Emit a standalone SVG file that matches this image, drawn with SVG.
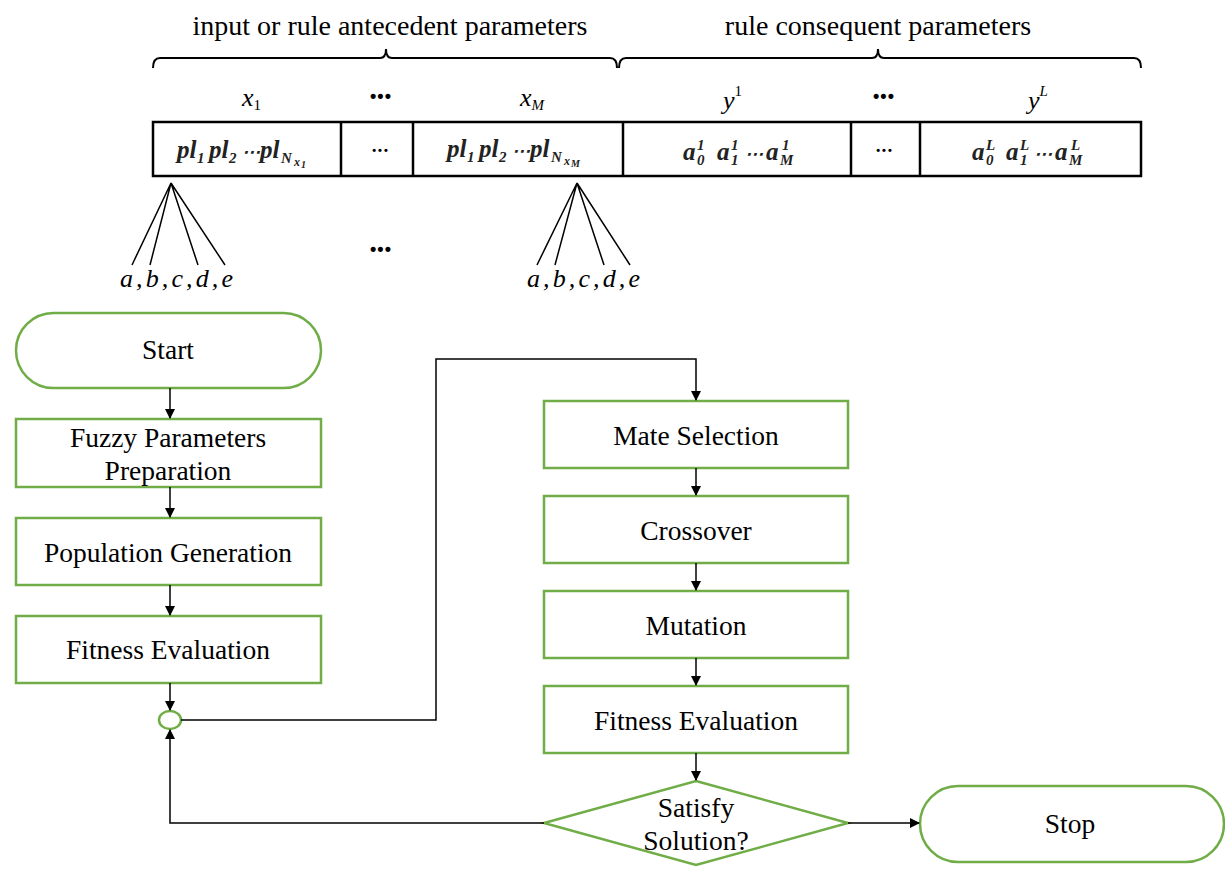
<svg xmlns="http://www.w3.org/2000/svg" width="1225" height="875" viewBox="0 0 1225 875">
<style>
.t{font-family:"Liberation Serif",serif;fill:#000}
.hd{font-size:28px}
.it{font-style:italic;font-size:26px}
.cell{font-family:"Liberation Serif",serif;font-style:italic;font-weight:bold;font-size:25px;fill:#222}
.s1{font-size:15px}
.s2{font-size:12px}
.lbl{font-size:27.5px;text-anchor:middle}
.node{fill:#fff;stroke:#70AD47;stroke-width:2.5}
.ln{fill:none;stroke:#000;stroke-width:1.5}
.blk{fill:none;stroke:#000;stroke-width:2}
.dots{font-family:"Liberation Sans",sans-serif;font-weight:bold;font-size:18px;text-anchor:middle;letter-spacing:1px}
.sd{font-family:"Liberation Sans",sans-serif;font-weight:bold;font-size:11px;text-anchor:middle;letter-spacing:2px}
</style>
<defs>
<marker id="ah" markerWidth="10" markerHeight="10" refX="9" refY="5" orient="auto" markerUnits="userSpaceOnUse">
<path d="M0,0 L10,5 L0,10 Z" fill="#000"/>
</marker>
</defs>
<g id="header">
<text class="t hd" x="390" y="35" text-anchor="middle">input or rule antecedent parameters</text>
<text class="t hd" x="878" y="35" text-anchor="middle">rule consequent parameters</text>
<path class="blk" d="M153,68 Q153,58 160,58 L380,58 Q386,58 386,49 Q386,58 392,58 L610,58 Q617,58 617,68"/>
<path class="blk" d="M619,68 Q619,58 626,58 L872,58 Q878,58 878,49 Q878,58 884,58 L1134,58 Q1141,58 1141,68"/>
<text class="t it" x="242" y="106">x<tspan font-size="15" dy="4" font-style="normal">1</tspan></text>
<text class="dots" x="381" y="102">•••</text>
<text class="t it" x="520" y="106">x<tspan font-size="15" dy="4">M</tspan></text>
<text class="t it" x="723" y="109">y<tspan font-size="15" dy="-13" font-style="normal">1</tspan></text>
<text class="dots" x="884" y="102">•••</text>
<text class="t it" x="1028" y="109">y<tspan font-size="15" dy="-13">L</tspan></text>
</g>
<g id="table">
<rect x="153" y="122" width="988" height="54" fill="#fff" stroke="#000" stroke-width="2.5"/>
<line x1="341" y1="122" x2="341" y2="176" stroke="#000" stroke-width="2.5"/>
<line x1="413" y1="122" x2="413" y2="176" stroke="#000" stroke-width="2.5"/>
<line x1="623" y1="122" x2="623" y2="176" stroke="#000" stroke-width="2.5"/>
<line x1="851" y1="122" x2="851" y2="176" stroke="#000" stroke-width="2.5"/>
<line x1="920" y1="122" x2="920" y2="176" stroke="#000" stroke-width="2.5"/>
<text class="cell"><tspan x="177" y="158">pl</tspan><tspan class="s1" x="197" y="163">1</tspan><tspan x="209" y="158">pl</tspan><tspan class="s1" x="229" y="163">2</tspan><tspan x="242" y="158" font-size="18">⋯</tspan><tspan x="260" y="158">pl</tspan><tspan class="s1" x="281" y="163">N</tspan><tspan class="s2" x="294" y="166">x</tspan><tspan font-size="10" x="301" y="168">1</tspan></text>
<text class="sd" x="381" y="154">•••</text>
<text class="cell"><tspan x="447" y="157">pl</tspan><tspan class="s1" x="467" y="162">1</tspan><tspan x="479" y="157">pl</tspan><tspan class="s1" x="499" y="162">2</tspan><tspan x="512" y="157" font-size="18">⋯</tspan><tspan x="530" y="157">pl</tspan><tspan class="s1" x="551" y="162">N</tspan><tspan class="s2" x="564" y="165">x</tspan><tspan font-size="10" x="571" y="167">M</tspan></text>
<text class="cell"><tspan x="683" y="160">a</tspan><tspan class="s1" x="697" y="165">0</tspan><tspan class="s1" x="697" y="150">1</tspan><tspan x="717" y="160">a</tspan><tspan class="s1" x="731" y="165">1</tspan><tspan class="s1" x="731" y="150">1</tspan><tspan x="745" y="160" font-size="18">⋯</tspan><tspan x="766" y="160">a</tspan><tspan class="s1" x="780" y="165">M</tspan><tspan class="s1" x="782" y="150">1</tspan></text>
<text class="sd" x="885" y="154">•••</text>
<text class="cell"><tspan x="972" y="160">a</tspan><tspan class="s1" x="986" y="165">0</tspan><tspan class="s1" x="986" y="150">L</tspan><tspan x="1006" y="160">a</tspan><tspan class="s1" x="1020" y="165">1</tspan><tspan class="s1" x="1020" y="150">L</tspan><tspan x="1034" y="160" font-size="18">⋯</tspan><tspan x="1055" y="160">a</tspan><tspan class="s1" x="1069" y="165">M</tspan><tspan class="s1" x="1071" y="150">L</tspan></text>
</g>
<g id="fans">
<path class="ln" stroke-width="2" d="M171,183 L132,265 M171,183 L150,265 M171,183 L198,265 M171,183 L225,265"/>
<path class="ln" stroke-width="2" d="M577,183 L537,265 M577,183 L555,265 M577,183 L604,265 M577,183 L630,265"/>
<text class="dots" x="381" y="255">•••</text>
<text class="t it" x="120" y="287" font-size="27" textLength="113" lengthAdjust="spacing">a,b,c,d,e</text>
<text class="t it" x="527" y="287" font-size="27" textLength="113" lengthAdjust="spacing">a,b,c,d,e</text>
</g>
<g id="start"><rect class="node" x="16" y="313" width="305" height="75" rx="37.5"/><text class="t lbl" x="168" y="359">Start</text></g>
<g id="fuzzy"><rect class="node" x="16" y="419" width="305" height="68"/><text class="t lbl" x="168" y="447">Fuzzy Parameters</text><text class="t lbl" x="168" y="480">Preparation</text></g>
<g id="population"><rect class="node" x="16" y="518" width="305" height="67"/><text class="t lbl" x="168" y="562">Population Generation</text></g>
<g id="fitness1"><rect class="node" x="16" y="616" width="305" height="67"/><text class="t lbl" x="168" y="659">Fitness Evaluation</text></g>
<g id="junction"><ellipse class="node" cx="170" cy="720" rx="11" ry="9"/></g>
<g id="mate"><rect class="node" x="544" y="401" width="304" height="67"/><text class="t lbl" x="696" y="445">Mate Selection</text></g>
<g id="crossover"><rect class="node" x="544" y="496" width="304" height="67"/><text class="t lbl" x="696" y="540">Crossover</text></g>
<g id="mutation"><rect class="node" x="544" y="591" width="304" height="67"/><text class="t lbl" x="696" y="635">Mutation</text></g>
<g id="fitness2"><rect class="node" x="544" y="686" width="304" height="67"/><text class="t lbl" x="696" y="730">Fitness Evaluation</text></g>
<g id="decision"><polygon class="node" points="696,781 848,823 696,865 544,823"/><text class="t lbl" x="696" y="817">Satisfy</text><text class="t lbl" x="696" y="850">Solution?</text></g>
<g id="stop"><rect class="node" x="920" y="786" width="304" height="76" rx="38"/><text class="t lbl" x="1070" y="833">Stop</text></g>
<g id="connectors">
<line class="ln" x1="170" y1="388" x2="170" y2="418" marker-end="url(#ah)"/>
<line class="ln" x1="170" y1="487" x2="170" y2="517" marker-end="url(#ah)"/>
<line class="ln" x1="170" y1="585" x2="170" y2="615" marker-end="url(#ah)"/>
<line class="ln" x1="170" y1="683" x2="170" y2="710" marker-end="url(#ah)"/>
<polyline class="ln" points="181,720 436,720 436,359 696,359 696,400" marker-end="url(#ah)"/>
<line class="ln" x1="696" y1="468" x2="696" y2="495" marker-end="url(#ah)"/>
<line class="ln" x1="696" y1="563" x2="696" y2="590" marker-end="url(#ah)"/>
<line class="ln" x1="696" y1="658" x2="696" y2="685" marker-end="url(#ah)"/>
<line class="ln" x1="696" y1="753" x2="696" y2="780" marker-end="url(#ah)"/>
<line class="ln" x1="848" y1="823" x2="919" y2="823" marker-end="url(#ah)"/>
<polyline class="ln" points="544,823 170,823 170,730" marker-end="url(#ah)"/>
</g>
</svg>
